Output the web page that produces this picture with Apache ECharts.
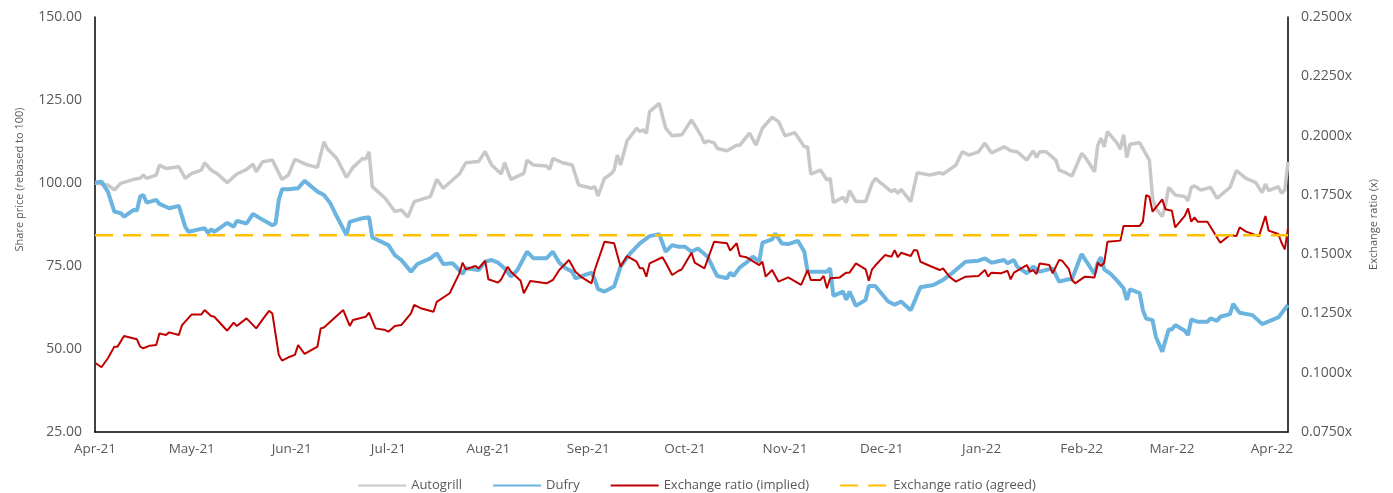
<!DOCTYPE html>
<html>
<head>
<meta charset="utf-8">
<script src="https://cdn.jsdelivr.net/npm/echarts@6/dist/echarts.min.js"></script>
<style>
html,body{margin:0;padding:0;background:#fff;}
#chart{width:1393px;height:493px;}
</style>
</head>
<body>
<div id="chart"></div>
<script>
// x values are calendar days counted from 1 Apr 2021
const startDate = '2021-04-01';
const monthTickDays = [0, 30, 61, 91, 122, 153, 183, 214, 244, 275, 306, 334, 365];
const monthLabels = ['Apr-21','May-21','Jun-21','Jul-21','Aug-21','Sep-21','Oct-21','Nov-21','Dec-21','Jan-22','Feb-22','Mar-22','Apr-22'];
const leftTicks = [25, 150, 25];      // min, max, step
const rightTicks = [0.075, 0.25, 0.025];
const lastDay = 370;

const autogrill = [[0,100.0],[4,99.4],[6,97.9],[8,99.9],[12,101.1],[14,101.4],[15,102.4],[16,101.4],[19,102.4],[20,105.4],[22,104.4],[26,104.9],[28,101.4],[30,102.9],[33,103.9],[34,106.1],[36,103.9],[38,102.7],[41,100.1],[43,101.9],[44,102.7],[47,104.1],[49,105.7],[50,103.4],[52,106.4],[55,106.9],[58,101.1],[60,102.4],[62,107.1],[66,105.4],[69,104.7],[71,112.4],[72,110.4],[75,107.4],[78,101.7],[80,104.7],[83,107.4],[84,107.2],[85,109.4],[86,98.9],[90,95.4],[93,91.4],[95,91.9],[97,89.7],[99,94.4],[100,94.7],[104,95.9],[106,101.1],[108,98.4],[113,102.7],[115,106.1],[119,106.5],[121,109.5],[123,105.4],[126,102.7],[127,106.1],[129,101.1],[133,102.9],[134,106.9],[136,105.4],[140,105.1],[141,104.1],[142,107.4],[145,106.1],[148,105.4],[150,99.4],[154,98.4],[155,98.9],[156,96.1],[158,101.4],[160,102.7],[161,103.9],[162,108.4],[163,105.4],[165,112.7],[168,116.5],[169,115.5],[170,116.0],[171,115.0],[172,121.5],[175,124.0],[177,116.5],[179,114.2],[182,114.5],[185,119.0],[188,114.2],[189,112.0],[190,112.7],[192,112.1],[193,110.4],[196,109.7],[199,111.4],[200,111.4],[203,115.0],[205,111.4],[207,116.5],[210,119.8],[212,118.5],[214,114.2],[217,115.2],[220,110.9],[221,110.9],[222,102.7],[225,103.9],[227,100.9],[228,101.4],[229,94.1],[232,95.7],[233,94.1],[234,97.7],[236,94.4],[239,94.4],[241,99.9],[242,101.4],[247,97.4],[248,98.1],[249,96.9],[250,98.1],[253,94.4],[255,103.1],[259,102.4],[262,103.1],[263,102.7],[267,105.4],[269,109.4],[271,108.4],[274,109.4],[276,112.0],[278,109.1],[282,110.9],[284,109.7],[286,109.4],[289,106.9],[291,109.7],[292,107.7],[293,109.4],[295,109.4],[298,106.9],[299,103.9],[301,103.1],[303,102.1],[306,108.9],[307,107.9],[310,103.4],[311,111.4],[312,113.5],[313,110.9],[314,115.5],[317,112.0],[318,110.2],[319,114.5],[320,107.7],[321,111.7],[324,112.1],[327,106.9],[328,95.4],[329,92.4],[331,89.9],[332,93.4],[333,98.7],[335,96.4],[338,95.9],[339,94.7],[340,98.7],[341,99.1],[343,97.9],[346,98.7],[348,95.4],[352,98.7],[354,103.7],[357,101.4],[360,100.1],[362,97.1],[363,99.7],[364,97.7],[367,98.9],[368,96.9],[369,97.9],[370,106.4]];

const dufry = [[0,100.1],[2,100.4],[4,97.4],[6,91.4],[8,90.9],[9,89.9],[12,91.9],[13,91.7],[14,95.9],[15,96.4],[16,94.1],[19,94.9],[20,93.7],[23,92.4],[26,93.1],[28,86.8],[29,85.3],[34,86.4],[35,85.0],[36,86.0],[37,85.3],[41,88.0],[43,86.8],[44,88.6],[47,87.8],[49,90.7],[52,88.9],[55,87.3],[56,87.8],[57,94.9],[58,98.1],[60,98.1],[63,98.4],[65,100.7],[69,97.4],[71,96.4],[73,93.9],[75,89.9],[78,84.3],[79,88.3],[83,89.4],[85,89.7],[86,83.6],[91,81.3],[93,78.3],[95,76.8],[98,73.3],[100,75.6],[104,77.3],[106,78.8],[108,75.6],[111,75.8],[114,72.6],[115,74.3],[119,73.8],[121,76.3],[123,76.8],[125,76.0],[127,74.3],[129,71.8],[131,73.8],[132,75.6],[134,79.3],[136,77.3],[140,77.3],[142,79.3],[144,76.0],[146,74.3],[148,73.3],[149,71.3],[154,73.0],[155,71.0],[156,68.0],[158,67.3],[161,68.8],[163,74.8],[166,78.8],[169,81.8],[172,84.0],[175,84.6],[177,79.3],[179,81.3],[181,80.8],[183,80.8],[185,79.3],[187,80.3],[190,77.8],[192,73.8],[193,72.0],[196,71.3],[197,73.0],[198,72.0],[200,74.6],[202,76.0],[204,77.8],[206,76.3],[207,82.0],[210,83.0],[211,84.8],[213,81.8],[215,81.6],[218,82.6],[220,79.3],[221,73.3],[227,73.3],[228,74.3],[229,66.0],[232,67.3],[233,64.8],[234,67.3],[236,63.0],[239,64.8],[240,69.0],[242,69.0],[246,64.3],[248,63.3],[250,64.3],[253,61.7],[256,68.6],[260,69.3],[262,70.3],[263,70.8],[266,73.0],[270,76.3],[274,76.6],[276,77.3],[278,76.0],[282,76.8],[283,75.8],[285,76.8],[286,74.8],[289,72.8],[291,74.8],[293,73.3],[297,74.3],[299,70.3],[302,71.0],[303,71.0],[306,78.6],[310,72.6],[311,76.0],[312,77.6],[313,74.0],[315,72.6],[317,70.6],[319,68.3],[320,64.8],[321,68.0],[324,66.8],[325,61.7],[326,59.2],[328,58.7],[329,53.7],[331,49.2],[333,55.9],[334,55.9],[335,57.2],[338,55.5],[339,54.2],[340,58.9],[342,58.2],[345,58.2],[346,59.2],[348,58.5],[349,59.7],[352,60.5],[353,63.6],[355,60.9],[359,60.2],[362,57.5],[367,59.5],[370,63.3]];

const ratioImplied = [[0,0.1042],[2,0.1023],[4,0.1061],[6,0.1110],[7,0.1110],[9,0.1155],[13,0.1141],[14,0.1110],[15,0.1103],[17,0.1114],[19,0.1117],[20,0.1166],[22,0.1159],[23,0.1170],[26,0.1159],[27,0.1201],[30,0.1246],[33,0.1246],[34,0.1264],[36,0.1239],[37,0.1236],[41,0.1177],[43,0.1211],[44,0.1197],[47,0.1229],[50,0.1187],[52,0.1225],[54,0.1261],[55,0.1250],[57,0.1075],[58,0.1051],[60,0.1065],[62,0.1075],[63,0.1117],[65,0.1079],[69,0.1110],[70,0.1187],[71,0.1191],[77,0.1264],[79,0.1197],[80,0.1222],[84,0.1236],[85,0.1253],[87,0.1187],[90,0.1180],[91,0.1173],[93,0.1197],[95,0.1201],[98,0.1250],[99,0.1286],[101,0.1272],[105,0.1257],[106,0.1299],[110,0.1335],[113,0.1419],[114,0.1464],[115,0.1436],[118,0.1450],[119,0.1440],[121,0.1472],[122,0.1394],[125,0.1380],[126,0.1394],[128,0.1447],[129,0.1426],[132,0.1388],[133,0.1335],[135,0.1387],[140,0.1377],[142,0.1391],[144,0.1433],[147,0.1475],[149,0.1426],[151,0.1402],[154,0.1377],[155,0.1433],[158,0.1552],[161,0.1546],[163,0.1447],[165,0.1492],[168,0.1468],[169,0.1440],[170,0.1440],[171,0.1405],[172,0.1461],[176,0.1487],[177,0.1464],[179,0.1412],[181,0.1430],[182,0.1436],[185,0.1506],[186,0.1464],[189,0.1440],[192,0.1552],[196,0.1546],[197,0.1515],[199,0.1546],[200,0.1492],[202,0.1487],[206,0.1454],[207,0.1468],[208,0.1405],[210,0.1433],[212,0.1384],[215,0.1402],[219,0.1370],[221,0.1433],[222,0.1391],[225,0.1391],[226,0.1408],[227,0.1356],[228,0.1398],[231,0.1402],[233,0.1422],[234,0.1422],[236,0.1461],[239,0.1436],[240,0.1388],[241,0.1436],[242,0.1452],[245,0.1496],[247,0.1489],[248,0.1517],[249,0.1487],[250,0.1506],[253,0.1492],[254,0.1517],[255,0.1515],[256,0.1468],[259,0.1450],[262,0.1433],[263,0.1440],[265,0.1405],[267,0.1384],[270,0.1405],[274,0.1408],[276,0.1433],[277,0.1405],[278,0.1422],[281,0.1419],[283,0.1430],[284,0.1394],[285,0.1422],[289,0.1454],[290,0.1426],[291,0.1433],[292,0.1416],[293,0.1461],[296,0.1454],[297,0.1419],[299,0.1475],[300,0.1472],[302,0.1438],[303,0.1391],[304,0.1377],[307,0.1405],[310,0.1402],[311,0.1464],[312,0.1450],[313,0.1464],[314,0.1552],[318,0.1557],[319,0.1619],[324,0.1619],[325,0.1637],[326,0.1749],[327,0.1742],[328,0.1679],[331,0.1731],[332,0.1689],[334,0.1683],[335,0.1613],[338,0.1661],[339,0.1693],[340,0.1637],[341,0.1655],[342,0.1637],[345,0.1637],[349,0.1548],[352,0.1581],[354,0.1576],[355,0.1613],[357,0.1595],[361,0.1576],[363,0.1661],[364,0.1599],[367,0.1585],[368,0.1548],[369,0.1520],[370,0.1609]];

const ratioAgreed = 0.158;

const seriesNames = ['Autogrill', 'Dufry', 'Exchange ratio (implied)', 'Exchange ratio (agreed)'];

const FONT = "'Open Sans', 'Noto Sans', sans-serif";
const TXT = '#595959';

const chart = echarts.init(document.getElementById('chart'), null, {renderer: 'canvas'});
chart.setOption({
  animation: false,
  backgroundColor: '#ffffff',
  textStyle: {fontFamily: FONT},
  grid: {left: 95, right: 105, top: 17, bottom: 61, containLabel: false},
  legend: {
    top: 474, left: 'center',
    itemWidth: 48, itemHeight: 10, itemGap: 30,
    itemStyle: {opacity: 0},
    textStyle: {color: TXT, fontSize: 13, fontFamily: FONT},
    data: seriesNames
  },
  xAxis: {
    type: 'value', min: 0, max: lastDay,
    axisLine: {show: true, lineStyle: {color: '#000', width: 1.5}},
    axisTick: {show: false},
    splitLine: {show: false},
    axisLabel: {
      color: TXT, fontSize: 13.5, fontFamily: FONT, margin: 10,
      customValues: monthTickDays,
      formatter: function (v) {
        const i = monthTickDays.indexOf(Math.round(v));
        return i >= 0 ? monthLabels[i] : '';
      }
    }
  },
  yAxis: [
    {
      type: 'value', position: 'left',
      min: leftTicks[0], max: leftTicks[1], interval: leftTicks[2],
      axisLine: {show: true, lineStyle: {color: '#000', width: 1.5}},
      axisTick: {show: false},
      splitLine: {show: false},
      axisLabel: {color: TXT, fontSize: 14, fontFamily: FONT, margin: 13,
        formatter: v => v.toFixed(2)},
      name: 'Share price (rebased to 100)',
      nameLocation: 'middle', nameRotate: 90, nameGap: 70,
      nameTextStyle: {color: TXT, fontSize: 11, fontFamily: FONT, padding: [0, 0, 0, 90]}
    },
    {
      type: 'value', position: 'right',
      min: rightTicks[0], max: rightTicks[1], interval: rightTicks[2],
      axisLine: {show: true, lineStyle: {color: '#000', width: 1.5}},
      axisTick: {show: false},
      splitLine: {show: false},
      axisLabel: {color: TXT, fontSize: 14, fontFamily: FONT, margin: 13,
        formatter: v => v.toFixed(4) + 'x'},
      name: 'Exchange ratio (x)',
      nameLocation: 'middle', nameRotate: 90, nameGap: 80,
      nameTextStyle: {color: TXT, fontSize: 11, fontFamily: FONT}
    }
  ],
  series: [
    {
      name: seriesNames[0], type: 'line', yAxisIndex: 0,
      data: autogrill, showSymbol: false, symbol: 'none',
      lineStyle: {color: '#C8C8C8', width: 3.5}, itemStyle: {color: '#C8C8C8'}
    },
    {
      name: seriesNames[1], type: 'line', yAxisIndex: 0,
      data: dufry, showSymbol: false, symbol: 'none',
      lineStyle: {color: '#6BB4DF', width: 4}, itemStyle: {color: '#6BB4DF'}
    },
    {
      name: seriesNames[2], type: 'line', yAxisIndex: 1,
      data: ratioImplied, showSymbol: false, symbol: 'none',
      lineStyle: {color: '#C00000', width: 2}, itemStyle: {color: '#C00000'}
    },
    {
      name: seriesNames[3], type: 'line', yAxisIndex: 1,
      data: [[0, ratioAgreed], [lastDay, ratioAgreed]], showSymbol: false, symbol: 'none',
      lineStyle: {color: '#FFC000', width: 2.5, type: [18, 10]}, itemStyle: {color: '#FFC000'}
    }
  ]
});
</script>
</body>
</html>
